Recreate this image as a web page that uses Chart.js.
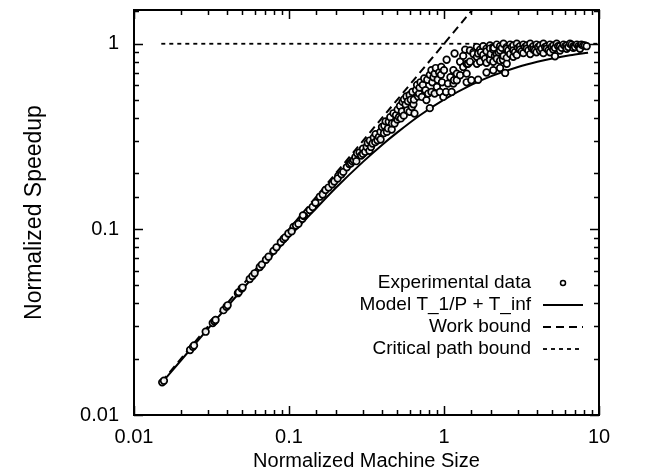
<!DOCTYPE html>
<html>
<head>
<meta charset="utf-8">
<script src="https://cdn.jsdelivr.net/npm/chart.js@4.4.1/dist/chart.umd.min.js"></script>
<style>
  html, body { margin: 0; padding: 0; background: #fff; }
  canvas { display: block; }
</style>
</head>
<body>
<canvas id="speedup" width="656" height="474"></canvas>
<script>
// Axis tick labels (decades only are labelled)
const xTickLabels = ["0.01", "0.1", "1", "10"];
const yTickLabels = ["0.01", "0.1", "1"];

// Experimental data: [normalized machine size, normalized speedup]
const expPoints = [
  [0.0152, 0.0150], [0.0156, 0.0153], [0.0230, 0.0224], [0.0240, 0.0233], [0.0244, 0.0237],
  [0.0290, 0.0281], [0.0322, 0.0313], [0.0330, 0.0320], [0.0336, 0.0325], [0.0378, 0.0367],
  [0.0395, 0.0383], [0.0402, 0.0390], [0.0468, 0.0453], [0.0474, 0.0459], [0.0495, 0.0480],
  [0.0502, 0.0486], [0.0558, 0.0540], [0.0580, 0.0560], [0.0600, 0.0580], [0.0648, 0.0627],
  [0.0668, 0.0646], [0.0710, 0.0686], [0.0738, 0.0712], [0.0795, 0.0766], [0.0830, 0.0800],
  [0.0885, 0.0853], [0.0922, 0.0888], [0.0945, 0.0905], [0.0990, 0.0950], [0.1070, 0.1030],
  [0.1110, 0.1050], [0.1040, 0.0975], [0.1150, 0.1070], [0.1220, 0.1140], [0.1250, 0.1180],
  [0.1230, 0.1190], [0.1360, 0.1270], [0.1420, 0.1320], [0.1480, 0.1390], [0.1580, 0.1500],
  [0.1650, 0.1540], [0.1720, 0.1630], [0.1800, 0.1680], [0.1900, 0.1750], [0.1960, 0.1810],
  [0.2080, 0.1940], [0.2060, 0.1880], [0.2180, 0.1980], [0.2240, 0.2040], [0.2360, 0.2160],
  [0.2450, 0.2250], [0.2510, 0.2270], [0.2560, 0.2330], [0.2620, 0.2360], [0.2680, 0.2450],
  [0.2750, 0.2570], [0.2720, 0.2330], [0.2850, 0.2600], [0.2920, 0.2500], [0.3000, 0.2720],
  [0.3000, 0.2550], [0.3100, 0.2620], [0.3170, 0.2780], [0.3220, 0.2920], [0.3300, 0.2650],
  [0.3320, 0.3010], [0.3380, 0.2780], [0.3460, 0.2900], [0.3520, 0.3120], [0.3600, 0.2950],
  [0.3620, 0.3260], [0.3720, 0.3020], [0.3800, 0.3150], [0.3890, 0.3350], [0.3900, 0.3050],
  [0.3980, 0.3560], [0.4100, 0.3300], [0.4120, 0.3620], [0.4200, 0.3820], [0.4280, 0.3350],
  [0.4350, 0.3500], [0.4400, 0.3800], [0.4500, 0.4020], [0.4600, 0.3450], [0.4620, 0.3720],
  [0.4720, 0.4220], [0.4800, 0.3720], [0.4900, 0.4120], [0.5000, 0.3900], [0.5020, 0.4420],
  [0.5120, 0.4020], [0.5200, 0.4620], [0.5270, 0.3960], [0.5350, 0.4320], [0.5400, 0.4860],
  [0.5500, 0.4100], [0.5520, 0.5020], [0.5650, 0.4700], [0.5720, 0.5200], [0.5800, 0.4380],
  [0.5850, 0.4900], [0.6000, 0.5300], [0.6000, 0.4300], [0.6100, 0.5000], [0.6200, 0.4560],
  [0.6250, 0.5500], [0.6350, 0.4720], [0.6400, 0.5000], [0.6450, 0.4210], [0.6600, 0.5620],
  [0.6700, 0.6000], [0.6800, 0.5200], [0.6900, 0.5390], [0.6950, 0.5800], [0.7050, 0.6200],
  [0.7200, 0.5170], [0.7300, 0.6000], [0.7450, 0.6500], [0.7600, 0.5620], [0.7700, 0.4970],
  [0.7800, 0.6400], [0.7900, 0.5390], [0.8100, 0.4500], [0.8100, 0.6800], [0.8300, 0.5500],
  [0.8300, 0.7200], [0.8400, 0.6200], [0.8550, 0.6600], [0.8700, 0.5390], [0.8700, 0.6900],
  [0.8850, 0.7400], [0.9000, 0.5850], [0.9100, 0.6400], [0.9300, 0.7000], [0.9400, 0.5500],
  [0.9550, 0.6800], [0.9600, 0.7500], [0.9700, 0.6200], [0.9900, 0.5170], [1.0000, 0.7200],
  [1.0300, 0.5500], [1.0400, 0.8200], [1.0600, 0.6100], [1.1000, 0.6600], [1.1200, 0.5500],
  [1.1500, 0.7200], [1.1500, 0.6100], [1.1600, 0.6360], [1.1700, 0.8860], [1.2100, 0.6900],
  [1.2100, 0.6360], [1.2700, 0.6770], [1.2700, 0.8000], [1.3300, 0.7500], [1.3300, 0.8600],
  [1.3700, 0.9300], [1.4000, 0.6900], [1.4000, 0.7800], [1.4000, 0.6200], [1.4300, 0.7800],
  [1.4700, 0.8000], [1.4700, 0.9200], [1.5000, 0.6360], [1.5500, 0.9000], [1.5500, 0.8800],
  [1.6300, 0.9600], [1.6300, 0.8500], [1.6300, 0.7800], [1.6600, 0.8860], [1.6600, 0.6400],
  [1.7100, 0.8000], [1.7100, 0.9300], [1.7300, 0.9000], [1.7900, 0.9700], [1.7900, 0.8700],
  [1.8400, 0.8300], [1.8800, 0.9400], [1.8800, 0.9100], [1.8800, 0.7900], [1.8800, 0.7000],
  [1.9800, 0.9800], [1.9800, 0.9420], [1.9800, 0.8500], [1.9800, 0.8200], [2.0000, 0.8800],
  [2.0800, 0.9600], [2.0800, 0.9300], [2.0800, 0.8000], [2.0800, 0.7200], [2.1000, 0.9500],
  [2.1300, 0.8600], [2.1900, 0.9900], [2.1900, 0.8800], [2.1900, 0.8300], [2.2500, 0.9000],
  [2.3000, 0.9700], [2.3000, 0.9200], [2.3000, 0.8100], [2.3000, 0.7400], [2.3600, 0.9500],
  [2.4000, 0.8200], [2.4200, 1.0000], [2.4200, 0.8600], [2.4800, 0.6960], [2.5400, 0.9600],
  [2.5400, 0.9400], [2.5400, 0.8400], [2.5400, 0.7800], [2.6000, 0.9200], [2.6700, 0.9900],
  [2.6700, 0.8800], [2.7400, 0.9600], [2.8000, 0.9800], [2.8000, 0.9200], [2.8000, 0.8500],
  [2.8700, 0.9000], [2.9500, 1.0000], [2.9500, 0.8700], [3.0000, 0.9500], [3.0900, 0.9700],
  [3.0900, 0.9300], [3.1700, 0.9100], [3.2500, 0.9900], [3.2500, 0.8900], [3.3300, 0.9600],
  [3.4200, 0.9800], [3.4200, 0.9400], [3.5000, 0.9200], [3.6000, 1.0000], [3.6000, 0.8800],
  [3.6800, 0.9500], [3.7700, 0.9700], [3.7700, 0.9300], [3.8600, 0.9200], [3.9500, 0.9900],
  [3.9500, 0.9000], [4.0500, 0.9600], [4.1600, 0.9800], [4.1600, 0.9200], [4.2700, 0.9400],
  [4.3800, 1.0000], [4.3800, 0.8900], [4.4900, 0.9600], [4.6000, 0.9700], [4.6000, 0.9400],
  [4.7200, 0.9200], [4.8300, 0.9900], [4.8300, 0.9000], [4.9500, 0.9600], [5.0700, 0.9800],
  [5.0700, 0.9300], [5.2000, 0.8560], [5.2000, 0.9500], [5.3300, 1.0000], [5.4500, 0.9700],
  [5.6000, 0.9700], [5.6000, 0.9200], [5.7500, 0.9500], [5.9000, 0.9900], [6.0500, 0.9700],
  [6.1900, 0.9800], [6.1900, 0.9400], [6.3500, 0.9600], [6.5000, 1.0000], [6.6600, 0.9900],
  [6.8300, 0.9700], [6.8300, 0.9500], [7.0000, 0.9600], [7.2000, 0.9900], [7.3700, 0.9700],
  [7.5400, 0.9600], [7.5400, 0.9400], [7.7000, 0.9900], [7.9000, 0.9800], [8.1000, 0.9800],
  [8.3300, 0.9700]
];

// Model T_1/P + T_inf
const modelX = [0.015, 0.02, 0.03, 0.05, 0.07, 0.1, 0.15, 0.2, 0.3, 0.4, 0.5, 0.7, 1, 1.5, 2, 3, 4, 5, 6.5, 8.5];
const modelY = [0.0148, 0.0196, 0.0291, 0.0476, 0.0654, 0.0909, 0.130, 0.167, 0.231, 0.286, 0.333, 0.412, 0.5, 0.6, 0.667, 0.75, 0.8, 0.833, 0.867, 0.895];

// Work bound (speedup = machine size) and critical path bound (speedup = 1)
const workX = [0.015, 1.52];
const workY = [0.015, 1.52];
const critX = [0.015, 10];
const critY = [1, 1];

const legendLabels = ["Experimental data", "Model T_1/P + T_inf", "Work bound", "Critical path bound"];

const FONT = "'Liberation Sans', Arial, Helvetica, sans-serif";

function toXY(xs, ys) {
  return xs.map((x, i) => ({ x: x, y: ys[i] }));
}

function decadeLabel(v, labels) {
  const hit = labels.find((l) => Math.abs(Math.log10(v) - Math.log10(parseFloat(l))) < 1e-6);
  return hit || "";
}

// Inward ticks on all four sides, the frame, and the legend (text left of its sample)
const framePlugin = {
  id: "framePlugin",
  afterDatasetsDraw(chart) {
    const { ctx, chartArea: a, scales } = chart;
    const xs = scales.x, ys = scales.y;
    ctx.save();
    ctx.strokeStyle = "#000";
    ctx.lineWidth = 1.5;
    ctx.beginPath();
    xs.ticks.forEach((t) => {
      const px = Math.round(xs.getPixelForValue(t.value)) + 0.5;
      const len = decadeLabel(t.value, xTickLabels) ? 9 : 5;
      ctx.moveTo(px, a.bottom); ctx.lineTo(px, a.bottom - len);
      ctx.moveTo(px, a.top); ctx.lineTo(px, a.top + len);
    });
    ys.ticks.forEach((t) => {
      if (t.value > ys.max) return;
      const py = Math.round(ys.getPixelForValue(t.value)) + 0.5;
      const len = decadeLabel(t.value, yTickLabels) ? 9 : 5;
      ctx.moveTo(a.left, py); ctx.lineTo(a.left + len, py);
      ctx.moveTo(a.right, py); ctx.lineTo(a.right - len, py);
    });
    ctx.stroke();

    ctx.lineWidth = 2;
    ctx.strokeRect(a.left, a.top, a.right - a.left, a.bottom - a.top);

    // legend
    const textRight = 531, sampleL = 543, sampleR = 583;
    const rows = [283, 305, 327, 349];
    ctx.font = "19px " + FONT;
    ctx.fillStyle = "#000";
    ctx.textAlign = "right";
    ctx.textBaseline = "middle";
    legendLabels.forEach((lab, i) => {
      const ds = chart.data.datasets[i];
      const y = rows[i];
      ctx.fillText(lab, textRight, y);
      if (i === 0) {
        ctx.beginPath();
        ctx.lineWidth = 1.5;
        ctx.arc((sampleL + sampleR) / 2, y, 2.5, 0, Math.PI * 2);
        ctx.stroke();
      } else {
        ctx.beginPath();
        ctx.lineWidth = ds.borderWidth;
        ctx.setLineDash(ds.borderDash || []);
        ctx.moveTo(sampleL, y);
        ctx.lineTo(sampleR, y);
        ctx.stroke();
        ctx.setLineDash([]);
      }
    });
    ctx.restore();
  }
};

const ctx = document.getElementById("speedup").getContext("2d");

new Chart(ctx, {
  type: "scatter",
  data: {
    datasets: [
      {
        label: legendLabels[0],
        data: expPoints.map((p) => ({ x: p[0], y: p[1] })),
        showLine: false,
        pointStyle: "circle",
        pointRadius: 3.3,
        pointBorderWidth: 1.7,
        pointBorderColor: "#000",
        pointBackgroundColor: "rgba(255,255,255,0.9)",
        order: 1
      },
      {
        label: legendLabels[1],
        data: toXY(modelX, modelY),
        showLine: true,
        pointRadius: 0,
        borderColor: "#000",
        borderWidth: 2,
        cubicInterpolationMode: "monotone",
        order: 2
      },
      {
        label: legendLabels[2],
        data: toXY(workX, workY),
        showLine: true,
        pointRadius: 0,
        borderColor: "#000",
        borderWidth: 2,
        borderDash: [8, 5],
        order: 3
      },
      {
        label: legendLabels[3],
        data: toXY(critX, critY),
        showLine: true,
        pointRadius: 0,
        borderColor: "#000",
        borderWidth: 1.8,
        borderDash: [4, 4],
        order: 4
      }
    ]
  },
  options: {
    responsive: false,
    animation: false,
    events: [],
    layout: { padding: { left: 0, right: 57, top: 10, bottom: 0 } },
    plugins: { legend: { display: false }, tooltip: { enabled: false } },
    scales: {
      x: {
        type: "logarithmic",
        min: 0.01,
        max: 10,
        grid: { display: false, drawTicks: false },
        border: { display: false },
        ticks: {
          autoSkip: false,
          maxRotation: 0,
          padding: 10,
          color: "#000",
          font: { family: FONT, size: 20 },
          callback: (v) => decadeLabel(v, xTickLabels)
        },
        title: {
          display: true,
          text: "Normalized Machine Size",
          color: "#000",
          font: { family: FONT, size: 20 },
          padding: { top: 0, bottom: 1 }
        },
        afterFit: (s) => { s.height = 59; s.paddingLeft = 0; s.paddingRight = 0; }
      },
      y: {
        type: "logarithmic",
        min: 0.01,
        max: 1.52,
        grid: { display: false, drawTicks: false },
        border: { display: false },
        ticks: {
          autoSkip: false,
          padding: 15,
          color: "#000",
          font: { family: FONT, size: 20 },
          callback: (v) => decadeLabel(v, yTickLabels)
        },
        title: {
          display: true,
          text: "Normalized Speedup",
          color: "#000",
          font: { family: FONT, size: 23 },
          padding: { top: 21, bottom: 0 }
        },
        afterFit: (s) => { s.width = 134; s.paddingTop = 0; s.paddingBottom = 0; }
      }
    }
  },
  plugins: [framePlugin]
});
</script>
</body>
</html>
